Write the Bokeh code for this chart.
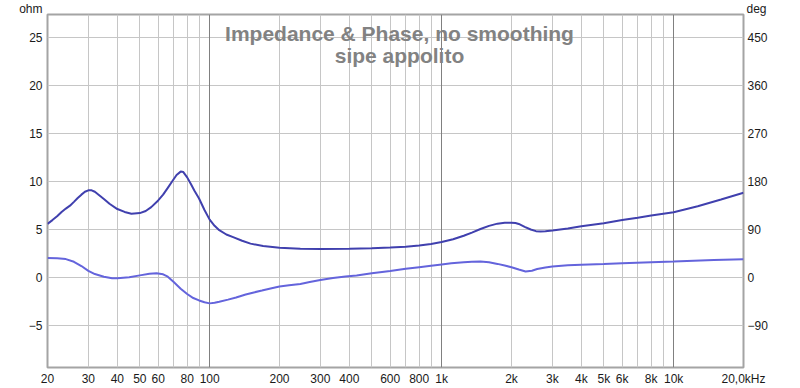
from bokeh.plotting import figure
from bokeh.models import (Range1d, LinearAxis, FixedTicker, Grid, Label, ColumnDataSource)
from bokeh.embed import file_html
from bokeh.resources import INLINE

# ---- data ----
imp_freq = [20, 21, 22, 23, 24, 25, 26, 27, 28, 29, 30, 31, 32, 33, 35, 37, 40, 43, 46,
            50, 53, 56, 60, 63, 66, 69, 72, 75, 77, 80, 83, 86, 90, 95, 100, 105, 110,
            118, 127, 138, 150, 170, 200, 246, 300, 400, 500, 600, 700, 800, 900, 1000,
            1120, 1245, 1350, 1470, 1600, 1740, 1870, 2000, 2080, 2150, 2280, 2420, 2550,
            2670, 2800, 3000, 3500, 4000, 5000, 6000, 7000, 8000, 10000, 12700, 16000,
            20000]
imp_ohm = [5.56, 5.95, 6.35, 6.8, 7.15, 7.45, 7.85, 8.25, 8.6, 8.9, 9.05, 9.05, 8.9,
           8.65, 8.15, 7.65, 7.1, 6.8, 6.62, 6.68, 6.9, 7.3, 8.0, 8.6, 9.3, 10.0, 10.65,
           11.0, 10.95, 10.4, 9.7, 9.0, 8.2, 7.0, 6.0, 5.35, 4.9, 4.45, 4.15, 3.8, 3.5,
           3.25, 3.06, 2.96, 2.93, 2.96, 3.02, 3.09, 3.18, 3.3, 3.47, 3.66, 3.95, 4.32,
           4.65, 5.02, 5.35, 5.58, 5.67, 5.68, 5.64, 5.55, 5.25, 4.97, 4.8, 4.76, 4.78,
           4.86, 5.08, 5.3, 5.62, 5.95, 6.2, 6.42, 6.77, 7.4, 8.09, 8.79]

ph_freq = [20, 22, 24, 26, 28, 30, 32, 35, 38, 40, 45, 50, 55, 59, 63, 66, 70, 75, 80,
           85, 90, 95, 100, 105, 110, 120, 130, 143, 155, 168, 185, 200, 220, 246, 270,
           300, 340, 385, 430, 500, 600, 700, 800, 900, 1000, 1100, 1245, 1350, 1470,
           1600, 1740, 1870, 2000, 2150, 2300, 2450, 2580, 2800, 3000, 3500, 4000, 5000,
           6000, 8000, 10000, 14900, 20000]
ph_deg = [36, 35.5, 34, 29, 21, 12, 6, 1, -2, -2, 0, 3.5, 6.5, 7.5, 5.5, 1, -9, -21.5,
          -31.5, -39, -43.5, -47, -49, -48, -46, -42, -38, -32.5, -28.5, -25, -20.5,
          -17.5, -15, -12.5, -9, -5, -1.5, 1.3, 3.3, 7.5, 11.7, 15.8, 18.9, 21.6, 24, 26,
          28, 29, 29.3, 28, 25, 22, 18.7, 14.4, 10.8, 12.2, 15.3, 18.4, 20.2, 22.3, 23.4,
          24.8, 26.1, 27.9, 29.3, 32.4, 33.7]

x_tick_vals = [20, 30, 40, 50, 60, 80, 100, 200, 300, 400, 600, 800, 1000, 2000, 3000,
               4000, 5000, 6000, 8000, 10000, 20000]
x_tick_text = ["20", "30", "40", "50", "60", "80", "100", "200", "300", "400", "600",
               "800", "1k", "2k", "3k", "4k", "5k", "6k", "8k", "10k", "20,0kHz"]
ohm_ticks = [-5, 0, 5, 10, 15, 20, 25]
deg_ticks = [-90, 0, 90, 180, 270, 360, 450]
title_lines = ["Impedance & Phase, no smoothing", "sipe appolito"]

FONT = "Liberation Sans"
Y0, Y1 = -9.4, 27.36
DEG_PER_OHM = 18.0

p = figure(width=800, height=388, x_axis_type="log",
           x_range=Range1d(20, 20000), y_range=Range1d(Y0, Y1),
           output_backend="svg", toolbar_location=None,
           min_border_left=47, min_border_right=57, min_border_top=14, min_border_bottom=21)
p.extra_y_ranges = {"deg": Range1d(Y0 * DEG_PER_OHM, Y1 * DEG_PER_OHM)}

p.background_fill_color = "white"
p.border_fill_color = "white"
p.outline_line_color = "#a4a4a4"
p.outline_line_width = 2

# grids
minor_grid = [f * d for d in (10, 100, 1000) for f in range(2, 10) if 20 < f * d < 20000]
p.xgrid.ticker = FixedTicker(ticks=minor_grid)
p.xgrid.grid_line_color = "#c6c6c6"
p.xgrid.grid_line_width = 1
p.add_layout(Grid(dimension=0, ticker=FixedTicker(ticks=[100, 1000, 10000]),
                  grid_line_color="#808080", grid_line_width=1))
p.ygrid.ticker = FixedTicker(ticks=ohm_ticks)
p.ygrid.grid_line_color = "#c6c6c6"

# x axis
xa = p.xaxis[0]
xa.ticker = FixedTicker(ticks=x_tick_vals)
xa.major_label_overrides = {v: t for v, t in zip(x_tick_vals, x_tick_text)}
# left axis
ya = p.yaxis[0]
ya.ticker = FixedTicker(ticks=ohm_ticks)
# right axis
ra = LinearAxis(y_range_name="deg", ticker=FixedTicker(ticks=deg_ticks))
p.add_layout(ra, "right")

for ax in (xa, ya, ra):
    ax.axis_line_color = None
    ax.major_tick_line_color = None
    ax.minor_tick_line_color = None
    ax.major_tick_in = 0
    ax.major_tick_out = 0
    ax.major_label_text_font = FONT
    ax.major_label_text_font_size = "12px"
    ax.major_label_text_color = "#1a1a1a"
xa.major_label_standoff = 4
ya.major_label_standoff = 5
ra.major_label_standoff = 4

# curves
imp_src = ColumnDataSource(dict(f=imp_freq, v=imp_ohm))
ph_src = ColumnDataSource(dict(f=ph_freq, v=ph_deg))
p.line("f", "v", source=ph_src, y_range_name="deg", line_color="#6464DC", line_width=2)
p.line("f", "v", source=imp_src, line_color="#4040AE", line_width=2)

# title (inside frame)
p.add_layout(Label(x=632.5, y=25.4, x_offset=4, text=title_lines[0], text_align="center",
                   text_baseline="alphabetic", text_font=FONT, text_font_size="21px",
                   text_font_style="bold", text_color="#828282"))
p.add_layout(Label(x=632.5, y=23.1, x_offset=4, text=title_lines[1], text_align="center",
                   text_baseline="alphabetic", text_font=FONT, text_font_size="21px",
                   text_font_style="bold", text_color="#828282"))

# unit labels (placed in side panels so they are not clipped to the frame)
p.add_layout(Label(x=20, y=Y1, x_offset=-5, y_offset=13, text="ohm", text_align="right",
                   text_baseline="top", text_font=FONT, text_font_size="12px",
                   text_color="#1a1a1a"), "left")
p.add_layout(Label(x=20000, y=Y1, x_offset=3, y_offset=13, text="deg", text_align="left",
                   text_baseline="top", text_font=FONT, text_font_size="12px",
                   text_color="#1a1a1a"), "right")

open("out.html", "w").write(file_html(p, INLINE))
